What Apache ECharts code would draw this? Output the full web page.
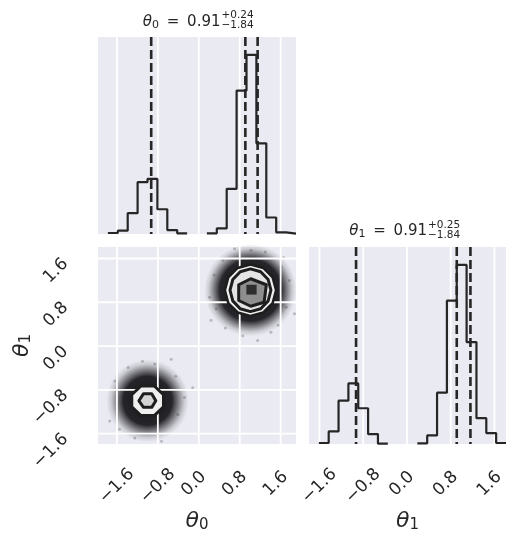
<!DOCTYPE html>
<html><head><meta charset="utf-8">
<script src="https://cdn.jsdelivr.net/npm/echarts@6/dist/echarts.min.js"></script>
<style>html,body{margin:0;padding:0;background:#fff}#c{width:521px;height:542px}</style>
</head><body><div id="c"></div>
<script>
// ---------------- data ----------------
const theta0Range = [-1.97, 1.90];
const theta1Range = [-1.79, 1.81];
const theta0Counts = [0, 3, 10, 63, 157, 167, 75, 12, 2, 0, 0, 2, 17, 137, 435, 543, 275, 50, 5, 1];
const theta1Counts = [0, 3, 38, 131, 183, 108, 30, 1, 0, 0, 0, 2, 26, 155, 433, 541, 308, 78, 33, 3];
const theta0Quantiles = [-0.93, 0.91, 1.15];
const theta1Quantiles = [-0.93, 0.91, 1.16];
const tickValues = [-1.6, -0.8, 0.0, 0.8, 1.6];
const tickLabels = ['\u22121.6', '\u22120.8', '0.0', '0.8', '1.6'];
const paramNames = ['0', '1'];

// 2-D panel: dense scatter clouds (centre, fully dark radius, outer extent) in data units
const cloudCenters = [[1.01, 1.02], [-1.0, -1.0]];
const cloudCoreRadius = [0.58, 0.46];
const cloudOuterRadius = [0.87, 0.78];
// a few isolated samples at the cloud edges
const strayTheta0 = [0.24, 0.34, 0.21, 1.61, 1.77, 1.87, 0.70, 1.02, 1.41, 1.15, 0.86, 1.71, 0.47, 0.30, 1.55, 1.66, 0.52, 1.30,
                     -0.54, -0.12, -1.74, -1.64, -1.25, -0.73, -0.41, -1.38, -0.86, -0.28, -1.55, -0.45, -1.10];
const strayTheta1 = [0.47, 0.68, 0.89, 1.44, 1.20, 0.59, 1.78, 1.75, 0.25, 0.10, 0.19, 0.71, 1.57, 1.30, 0.38, 1.62, 0.33, 1.72,
                     -0.24, -0.76, -1.37, -0.64, -1.68, -1.74, -1.25, -0.39, -0.33, -0.94, -1.52, -0.55, -0.28];
// density contours (vertices in data units)
const contourUpperL4 = [[1.51,1.02],[1.443,1.255],[1.26,1.427],[1.01,1.49],[0.76,1.427],[0.577,1.255],[0.51,1.02],[0.577,0.785],[0.76,0.613],[1.01,0.55],[1.26,0.613],[1.443,0.785]];
const contourUpperL3 = [[1.41,1.02],[1.356,1.215],[1.21,1.358],[1.01,1.41],[0.81,1.358],[0.664,1.215],[0.61,1.02],[0.664,0.825],[0.81,0.682],[1.01,0.63],[1.21,0.682],[1.356,0.825]];
const contourUpperL2 = [[1.015,1.23],[1.32,1.12],[1.277,0.80],[1.015,0.727],[0.78,0.832],[0.78,1.12]];
const contourUpperL1 = [[0.93,1.12],[1.13,1.12],[1.13,0.94],[0.93,0.94]];
const contourLowerL4 = [[-0.69,-0.89],[-0.87,-0.73],[-1.13,-0.73],[-1.31,-0.89],[-1.31,-1.11],[-1.13,-1.27],[-0.87,-1.27],[-0.69,-1.11]];
const contourLowerL2 = [[-1.17,-1.0],[-1.08,-0.87],[-0.92,-0.87],[-0.84,-1.0],[-0.92,-1.12],[-1.08,-1.12]];

// ---------------- styling / layout ----------------
const FONT = 'DejaVu Sans';
const TXT = '#262626';
const BG = '#eaeaf2';
const INK = '#1e1e1e';

const contourShapes = [
  {pts: contourUpperL4, fill: '#f1f1f1', stroke: INK, lw: 2.5},
  {pts: contourUpperL3, fill: '#e4e4e4', stroke: INK, lw: 3},
  {pts: contourUpperL2, fill: '#8e8e8e', stroke: INK, lw: 3},
  {pts: contourUpperL1, fill: '#2e2e2e', stroke: null, lw: 0},
  {pts: contourLowerL4, fill: '#efefef', stroke: INK, lw: 3},
  {pts: contourLowerL2, fill: '#d4d4d4', stroke: INK, lw: 3}
];

function binEdges(range, n) {
  const w = (range[1] - range[0]) / n;
  const e = [];
  for (let k = 0; k <= n; k++) e.push(range[0] + k * w);
  return e;
}
// step outline of a histogram; empty bins leave a gap (as in the reference)
function stepData(range, counts) {
  const e = binEdges(range, counts.length);
  const d = [];
  counts.forEach((c, i) => {
    if (c > 0) { d.push([e[i], c]); d.push([e[i + 1], c]); }
    else { d.push([e[i], null]); }
  });
  return d;
}
function fmtTick(v) {
  const i = tickValues.findIndex(t => Math.abs(t - v) < 1e-6);
  return i < 0 ? '' : tickLabels[i];
}
function fmtTickRich(v) {
  const s = fmtTick(v);
  if (!s) return '';
  return v < 0 ? '{n|' + s + '}' : '{p|' + s + '}';
}
function fmtTickY(v) {
  const s = fmtTick(v);
  return s ? '{y|' + s + '}' : '';
}
const TICK_FS = 17;
const tickStyle = {fontFamily: FONT, fontSize: TICK_FS, color: TXT};

function vLines(xi, yi, yRef, values, style, z) {
  return {
    type: 'custom', xAxisIndex: xi, yAxisIndex: yi, silent: true, z: z,
    data: values.map(v => [v, yRef]),
    renderItem: (params, api) => {
      const cs = params.coordSys;
      const x = api.coord([api.value(0), api.value(1)])[0];
      return {type: 'line', shape: {x1: x, y1: cs.y, x2: x, y2: cs.y + cs.height}, style: style};
    }
  };
}
function hLines(xi, yi, xRef, values, style, z) {
  return {
    type: 'custom', xAxisIndex: xi, yAxisIndex: yi, silent: true, z: z,
    data: values.map(v => [xRef, v]),
    renderItem: (params, api) => {
      const cs = params.coordSys;
      const y = api.coord([api.value(0), api.value(1)])[1];
      return {type: 'line', shape: {x1: cs.x, y1: y, x2: cs.x + cs.width, y2: y}, style: style};
    }
  };
}
const gridStyle = {stroke: '#ffffff', lineWidth: 1.8};
const dashStyle = {stroke: '#262626', lineWidth: 2.6, lineDash: [9, 4]};

const max0 = Math.max(...theta0Counts) * 1.1;
const max1 = Math.max(...theta1Counts) * 1.1;

function hiddenAxis(gi, min, max) {
  return {type: 'value', gridIndex: gi, min: min, max: max, show: true,
    axisLine: {show: false}, axisTick: {show: false}, axisLabel: {show: false}, splitLine: {show: false}};
}
const axisNameRich = {
  t: {fontFamily: FONT, fontStyle: 'italic', fontSize: 22, color: TXT},
  s: {fontFamily: FONT, fontSize: 15, color: TXT, padding: [9, 0, 0, 0]}
};
function labelledX(gi, range, name) {
  return {type: 'value', gridIndex: gi, min: range[0], max: range[1],
    axisLine: {show: false}, axisTick: {show: false}, splitLine: {show: false},
    axisLabel: {show: true, customValues: tickValues, rotate: 45, align: 'center', verticalAlign: 'middle',
      margin: 42, formatter: fmtTickRich, fontFamily: FONT, fontSize: TICK_FS, color: TXT,
      rich: {n: Object.assign({}, tickStyle), p: Object.assign({padding: [0, 4, 10, 0]}, tickStyle)}},
    name: '{t|\u03b8}{s|' + name + '}', nameLocation: 'middle', nameGap: 65,
    nameTextStyle: {rich: axisNameRich}
  };
}

function titleGraphic(xMain, yMid, q, name) {
  const med = q[1].toFixed(2);
  const up = '+' + (q[2] - q[1]).toFixed(2);
  const lo = '\u2212' + (q[1] - q[0]).toFixed(2);
  return [
    {type: 'text', x: xMain, y: yMid, silent: true,
      style: {text: '{t|\u03b8}{s|' + name + '}{m| \u2009= \u2009' + med + '}', align: 'right', verticalAlign: 'middle', fill: TXT,
        rich: {t: {fontFamily: FONT, fontStyle: 'italic', fontSize: 15, fill: TXT},
               s: {fontFamily: FONT, fontSize: 11, fill: TXT, padding: [6, 0, 0, 0]},
               m: {fontFamily: FONT, fontSize: 15, fill: TXT}}}},
    {type: 'text', x: xMain + 1, y: yMid - 6.5, silent: true,
      style: {text: up, fontFamily: FONT, fontSize: 10.5, fill: TXT, align: 'left', verticalAlign: 'middle'}},
    {type: 'text', x: xMain + 1, y: yMid + 3.8, silent: true,
      style: {text: lo, fontFamily: FONT, fontSize: 10.5, fill: TXT, align: 'left', verticalAlign: 'middle'}}
  ];
}

const chart = echarts.init(document.getElementById('c'), null, {renderer: 'canvas', width: 521, height: 542});
const option = {
  animation: false,
  backgroundColor: '#ffffff',
  textStyle: {fontFamily: FONT},
  grid: [
    {left: 98, top: 37, width: 198, height: 197, show: true, backgroundColor: BG, borderWidth: 0, containLabel: false, outerBoundsMode: 'none'},
    {left: 98, top: 247, width: 198, height: 197, show: true, backgroundColor: BG, borderWidth: 0, containLabel: false, outerBoundsMode: 'none'},
    {left: 309, top: 247, width: 197, height: 197, show: true, backgroundColor: BG, borderWidth: 0, containLabel: false, outerBoundsMode: 'none'}
  ],
  xAxis: [
    hiddenAxis(0, theta0Range[0], theta0Range[1]),
    labelledX(1, theta0Range, paramNames[0]),
    labelledX(2, theta1Range, paramNames[1])
  ],
  yAxis: [
    hiddenAxis(0, 0, max0),
    {type: 'value', gridIndex: 1, min: theta1Range[0], max: theta1Range[1],
      axisLine: {show: false}, axisTick: {show: false}, splitLine: {show: false},
      axisLabel: {show: true, customValues: tickValues, rotate: 45, margin: 34, formatter: fmtTickY,
        fontFamily: FONT, fontSize: TICK_FS, color: TXT,
        rich: {y: Object.assign({padding: [6, 1, 0, 0]}, tickStyle)}},
      name: '{t|\u03b8}{s|' + paramNames[1] + '}', nameLocation: 'middle', nameGap: 64, nameMoveOverlap: false,
      nameTextStyle: {rich: axisNameRich}},
    hiddenAxis(2, 0, max1)
  ],
  graphic: titleGraphic(220.5, 21.7, theta0Quantiles, paramNames[0])
    .concat(titleGraphic(427, 231.5, theta1Quantiles, paramNames[1])),
  series: [
    // grid lines
    vLines(0, 0, 1, tickValues, gridStyle, 1),
    vLines(1, 1, 0, tickValues, gridStyle, 2),
    hLines(1, 1, 0, tickValues, gridStyle, 2),
    vLines(2, 2, 1, tickValues, gridStyle, 1),
    // histograms
    {type: 'line', xAxisIndex: 0, yAxisIndex: 0, showSymbol: false, silent: true, z: 3, connectNulls: false,
      data: stepData(theta0Range, theta0Counts), lineStyle: {color: '#262626', width: 2.2}},
    {type: 'line', xAxisIndex: 2, yAxisIndex: 2, showSymbol: false, silent: true, z: 3, connectNulls: false,
      data: stepData(theta1Range, theta1Counts), lineStyle: {color: '#262626', width: 2.2}},
    // quantile lines
    vLines(0, 0, 1, theta0Quantiles, dashStyle, 4),
    vLines(2, 2, 1, theta1Quantiles, dashStyle, 4),
    // 2-D scatter clouds
    {type: 'custom', xAxisIndex: 1, yAxisIndex: 1, silent: true, z: 1,
      data: cloudCenters.map((c, i) => [c[0], c[1], cloudCoreRadius[i], cloudOuterRadius[i]]),
      renderItem: (params, api) => {
        const c = api.coord([api.value(0), api.value(1)]);
        const outer = api.value(3), core = api.value(2);
        const sz = api.size([outer, outer]);
        const r = (sz[0] + sz[1]) / 2;
        const k = core / outer;
        return {type: 'circle', shape: {cx: c[0], cy: c[1], r: r},
          style: {fill: {type: 'radial', x: 0.5, y: 0.5, r: 0.5, colorStops: [
            {offset: 0, color: 'rgba(22,22,26,1)'},
            {offset: k, color: 'rgba(22,22,26,0.93)'},
            {offset: k + (1 - k) * 0.4, color: 'rgba(30,30,34,0.5)'},
            {offset: k + (1 - k) * 0.72, color: 'rgba(40,40,44,0.16)'},
            {offset: 1, color: 'rgba(40,40,44,0)'}]}}};
      }},
    {type: 'scatter', xAxisIndex: 1, yAxisIndex: 1, silent: true, z: 1, symbolSize: 3,
      data: strayTheta0.map((v, i) => [v, strayTheta1[i]]),
      itemStyle: {color: 'rgba(30,30,34,0.3)'}},
    // contours
    {type: 'custom', xAxisIndex: 1, yAxisIndex: 1, silent: true, z: 5,
      data: contourShapes.map((s, i) => [i]),
      renderItem: (params, api) => {
        const s = contourShapes[params.dataIndex];
        const pts = s.pts.map(p => api.coord(p));
        return {type: 'polygon', shape: {points: pts},
          style: {fill: s.fill, stroke: s.stroke || 'none', lineWidth: s.lw, lineJoin: 'round'}};
      }}
  ]
};
chart.setOption(option);
</script>
</body></html>
